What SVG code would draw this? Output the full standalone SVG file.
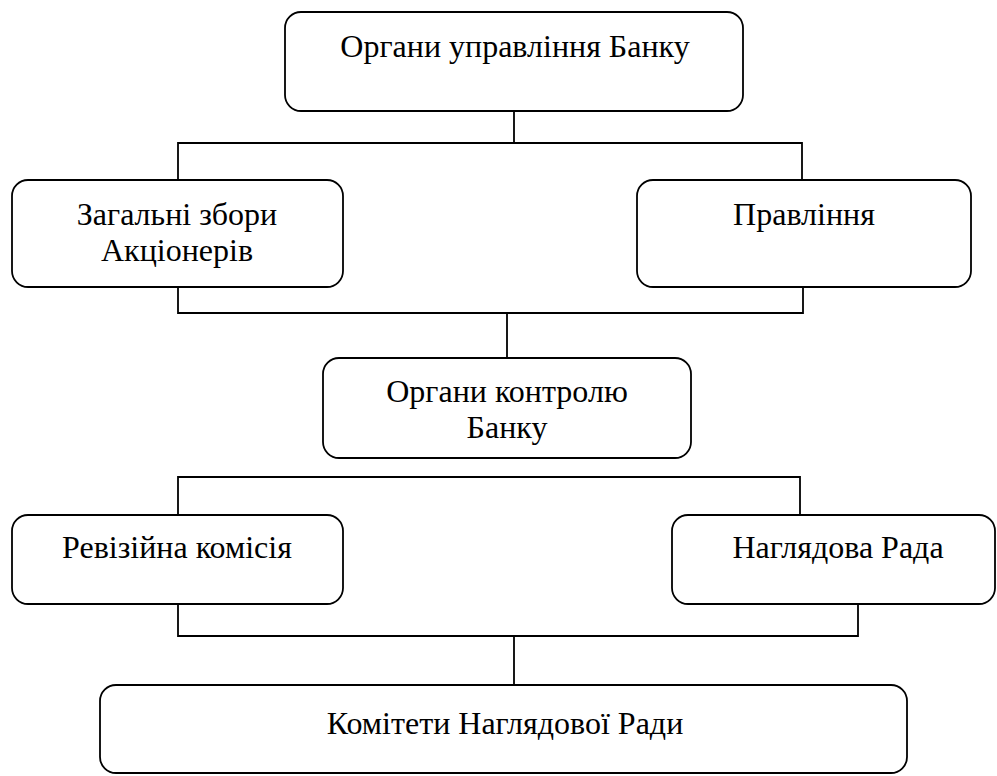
<svg xmlns="http://www.w3.org/2000/svg" width="997" height="776" viewBox="0 0 997 776">
<style>
.box{fill:#fff;stroke:#000;stroke-width:1.8}
.ln{fill:none;stroke:#000;stroke-width:1.8}
.t{font-family:'Liberation Serif',serif;font-size:32px;text-anchor:middle;fill:#000}
</style>
<rect width="997" height="776" fill="#fff"/>
<g id="connectors">
<path class="ln" d="M514 111V143M178 180V143H802V180"/>
<path class="ln" d="M178 287V313H803V287M507 313V358"/>
<path class="ln" d="M178 515V477H800V515"/>
<path class="ln" d="M178 604V636H858V604M514 636V685"/>
</g>
<g id="n1"><rect class="box" x="285" y="12" width="458" height="99" rx="16"/><text class="t" x="515" y="57">Органи управління Банку</text></g>
<g id="n2"><rect class="box" x="12" y="180" width="331" height="107" rx="16"/><text class="t" x="177" y="225">Загальні збори</text><text class="t" x="177" y="261">Акціонерів</text></g>
<g id="n3"><rect class="box" x="637" y="180" width="334" height="107" rx="16"/><text class="t" x="804" y="225">Правління</text></g>
<g id="n4"><rect class="box" x="323" y="358" width="368" height="100" rx="16"/><text class="t" x="507" y="402">Органи контролю</text><text class="t" x="507" y="438">Банку</text></g>
<g id="n5"><rect class="box" x="12" y="515" width="331" height="89" rx="16"/><text class="t" x="177" y="558">Ревізійна комісія</text></g>
<g id="n6"><rect class="box" x="672" y="515" width="323" height="89" rx="16"/><text class="t" x="838" y="558">Наглядова Рада</text></g>
<g id="n7"><rect class="box" x="100" y="685" width="807" height="88" rx="16"/><text class="t" x="505" y="734">Комітети Наглядової Ради</text></g>
</svg>
